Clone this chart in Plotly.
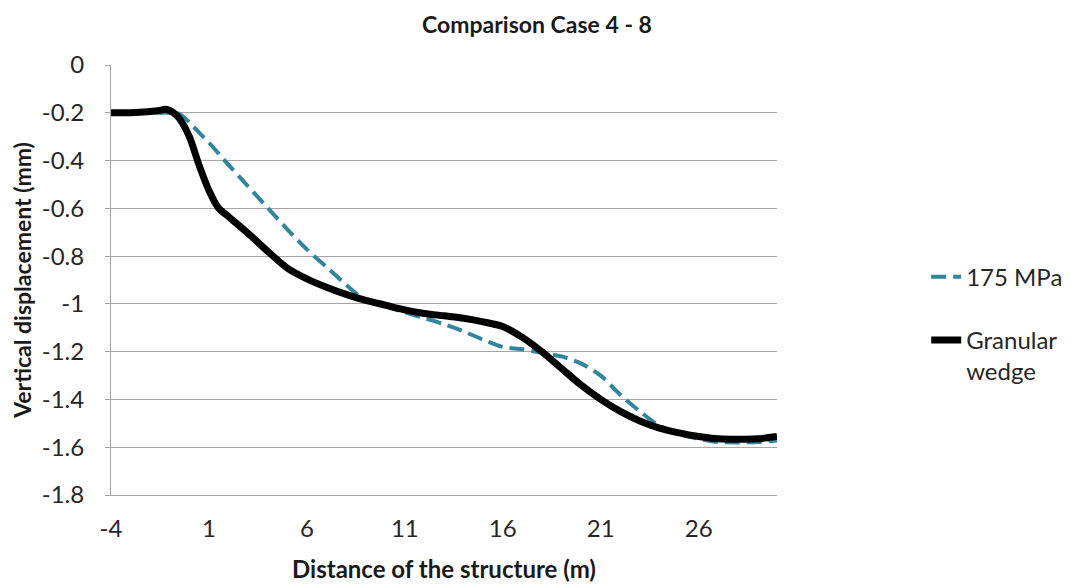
import plotly.graph_objects as go

# ---- data ----
x_granular = [-4, -3, -2, -1.5, -1.2, -0.8, -0.5, 0, 0.5, 1, 1.5, 2, 3, 4, 5, 6, 7, 8, 9, 10,
              11, 12, 13, 14, 15, 16, 17, 18, 19, 20, 21, 22, 23, 24, 25, 26, 27, 28, 29, 30]
y_granular = [-0.20, -0.20, -0.195, -0.19, -0.185, -0.20, -0.225, -0.30, -0.42, -0.525, -0.60,
              -0.635, -0.705, -0.78, -0.85, -0.895, -0.93, -0.96, -0.985, -1.005,
              -1.025, -1.04, -1.05, -1.06, -1.075, -1.095, -1.14, -1.20, -1.27, -1.34,
              -1.40, -1.45, -1.49, -1.52, -1.54, -1.555, -1.565, -1.567, -1.565, -1.555]

x_175 = [-4, -3, -2, -1, -0.5, 0, 0.5, 1, 2, 3, 4, 5, 6, 7, 8, 8.5, 9, 10,
         11, 12, 13, 14, 15, 16, 17, 18, 19, 20, 21, 22, 23, 24, 25, 26, 27, 28, 29, 30]
y_175 = [-0.20, -0.20, -0.20, -0.20, -0.205, -0.24, -0.283, -0.325, -0.418, -0.508, -0.598,
         -0.688, -0.772, -0.845, -0.92, -0.955, -0.98, -1.01,
         -1.035, -1.06, -1.085, -1.115, -1.15, -1.18, -1.19, -1.205, -1.22, -1.25,
         -1.30, -1.38, -1.45, -1.51, -1.545, -1.565, -1.578, -1.58, -1.578, -1.572]

series_names = ["175 MPa", "Granular<br>wedge"]

x_tickvals = [-4, 1, 6, 11, 16, 21, 26]
x_ticktext = ["-4", "1", "6", "11", "16", "21", "26"]
y_tickvals = [0, -0.2, -0.4, -0.6, -0.8, -1.0, -1.2, -1.4, -1.6, -1.8]
y_ticktext = ["0", "-0.2", "-0.4", "-0.6", "-0.8", "-1", "-1.2", "-1.4", "-1.6", "-1.8"]

FONT = "Lato"
GRID = "#a6a6a6"
TXT = "#262626"

fig = go.Figure()
fig.add_trace(go.Scatter(
    x=x_175, y=y_175, mode="lines", name=series_names[0], legendgroup="a",
    line=dict(color="#31859c", width=4, dash="15px,7px", shape="spline", smoothing=0.8),
))
fig.add_trace(go.Scatter(
    x=x_granular, y=y_granular, mode="lines", name=series_names[1], legendgroup="b",
    line=dict(color="#000000", width=7, shape="spline", smoothing=0.8),
))

# the page adds an 8px body margin, so margins are reduced by 8px
fig.update_layout(
    width=1075, height=585,
    margin=dict(l=103, r=306, t=57, b=98, pad=0, autoexpand=False),
    paper_bgcolor="white", plot_bgcolor="white",
    font=dict(family=FONT, size=24, color=TXT),
    title=dict(text="<b>Comparison Case 4 - 8</b>", x=(537 - 8) / 1075, xref="container",
               xanchor="center", y=1 - 17 / 585, yref="container", yanchor="middle",
               font=dict(family=FONT, size=23, color="#1a1a1a")),
    showlegend=True,
    legend=dict(x=1.224, xanchor="left", y=0.559, yanchor="top", valign="top",
                traceorder="grouped", tracegroupgap=29,
                font=dict(family=FONT, size=24, color=TXT),
                bgcolor="rgba(0,0,0,0)", itemwidth=30),
)

fig.update_xaxes(
    range=[-4, 30], tickmode="array", tickvals=x_tickvals, ticktext=x_ticktext,
    showgrid=False, zeroline=False, showline=True, linecolor=GRID, linewidth=1,
    ticks="", ticklabelstandoff=12, automargin=False,
    tickfont=dict(family=FONT, size=24, color=TXT),
    title=dict(text="<b>Distance of the structure (m)</b>", standoff=20,
               font=dict(family=FONT, size=24, color="#1a1a1a")),
)
fig.update_yaxes(
    range=[-1.8, 0], tickmode="array", tickvals=y_tickvals, ticktext=y_ticktext,
    showgrid=True, gridcolor=GRID, gridwidth=1, zeroline=False,
    showline=True, linecolor=GRID, linewidth=1,
    ticks="outside", ticklen=5, tickcolor=GRID, ticklabelstandoff=16, automargin=False,
    tickfont=dict(family=FONT, size=24, color=TXT),
    title=dict(text="<b>Vertical displacement (mm)</b>", standoff=6,
               font=dict(family=FONT, size=23, color="#1a1a1a")),
)

fig.write_html("out.html")
